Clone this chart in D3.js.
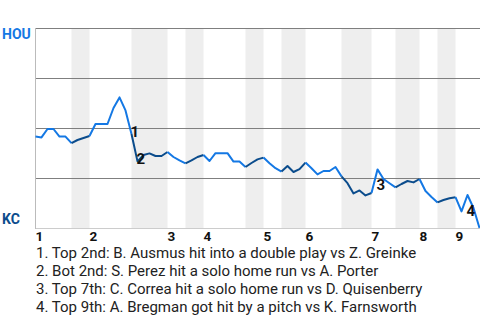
<!DOCTYPE html>
<html>
<head>
<meta charset="utf-8">
<script src="https://cdn.jsdelivr.net/npm/d3@7"></script>
<style>
  body { margin: 0; background: #fff; }
  svg { display: block; font-family: Roboto, "Noto Sans", sans-serif; }
</style>
</head>
<body>
<svg id="chart" width="480" height="320"></svg>
<script>
// teams: away on top, home at the bottom
const teams = ["HOU", "KC"];

// plate appearances in each half inning (top 1, bot 1, top 2, ...)
const halfInningPAs = [6, 3, 7, 6, 3, 3, 7, 3, 3, 4, 6, 5, 4, 4, 3, 3, 4];

const inningLabels = ["1", "2", "3", "4", "5", "6", "7", "8", "9"];

// HOU win probability (%) after each plate appearance
const winProb = [
  45.7, 45.3, 49.5, 49.5, 45.7, 45.7, 42.4, 44.0, 45.0, 46.0,
  52.0, 52.0, 52.0, 60.0, 65.3, 58.8, 47.0, 33.3, 36.5, 37.3,
  36.0, 36.0, 38.0, 35.5, 33.8, 32.3, 33.8, 35.5, 36.5, 33.5,
  37.4, 37.4, 37.4, 33.2, 33.2, 30.5, 32.5, 34.3, 35.2, 32.4,
  29.9, 28.2, 31.0, 28.0, 29.4, 32.7, 29.9, 26.8, 28.5, 28.5,
  30.5, 25.8, 22.4, 17.3, 18.8, 16.3, 17.5, 29.3, 24.5, 22.4,
  20.3, 22.0, 23.5, 22.8, 24.5, 18.5, 15.5, 12.8, 14.0, 14.9,
  15.4, 8.3, 16.5, 10.0, 0
];

// key plays: index into winProb and description
const keyPlayIndex = [16, 17, 57, 72];
const keyPlayText = [
  "Top 2nd: B. Ausmus hit into a double play vs Z. Greinke",
  "Bot 2nd: S. Perez hit a solo home run vs A. Porter",
  "Top 7th: C. Correa hit a solo home run vs D. Quisenberry",
  "Top 9th: A. Bregman got hit by a pitch vs K. Farnsworth"
];

const awayColor = "#1478e4";
const homeColor = "#0b4c8c";

const svg = d3.select("#chart");

const x = d3.scaleLinear()
  .domain([0, winProb.length - 1])
  .range([35.5, 479.5]);

const y = d3.scaleLinear()
  .domain([0, 100])
  .range([228, 28]);

// start/end index of each half inning
let acc = 0;
const halves = halfInningPAs.map((n, k) => {
  const h = { k: k, start: acc, end: acc + n, top: k % 2 === 0 };
  acc += n;
  return h;
});

// shaded bottom halves
svg.append("g")
  .selectAll("rect")
  .data(halves.filter(h => !h.top))
  .enter()
  .append("rect")
  .attr("x", d => x(d.start))
  .attr("y", y(100))
  .attr("width", d => x(d.end) - x(d.start))
  .attr("height", y(0) - y(100))
  .attr("fill", "#eeeeee");

// horizontal grid
svg.append("g")
  .selectAll("line")
  .data([100, 75, 50, 25])
  .enter()
  .append("line")
  .attr("x1", x(0))
  .attr("x2", 480)
  .attr("y1", d => Math.round(y(d)) + 0.5)
  .attr("y2", d => Math.round(y(d)) + 0.5)
  .attr("stroke", "#7f7f7f")
  .attr("stroke-width", 1);

// bottom and left axis lines
svg.append("line")
  .attr("x1", x(0)).attr("x2", 480)
  .attr("y1", y(0) + 0.5).attr("y2", y(0) + 0.5)
  .attr("stroke", "#cccccc");
svg.append("line")
  .attr("x1", x(0)).attr("x2", x(0))
  .attr("y1", y(100)).attr("y2", y(0) + 1)
  .attr("stroke", "#bbbbbb");

// win probability line, coloured by batting team
const line = d3.line()
  .x(d => x(d.i))
  .y(d => y(d.p));

svg.append("g")
  .selectAll("path")
  .data(halves)
  .enter()
  .append("path")
  .attr("d", h => line(d3.range(h.start, h.end + 1).map(i => ({ i: i, p: winProb[i] }))))
  .attr("fill", "none")
  .attr("stroke", h => h.top ? awayColor : homeColor)
  .attr("stroke-width", 2)
  .attr("stroke-linejoin", "round");

// team labels
svg.append("text")
  .attr("x", 2)
  .attr("y", y(100) + 11)
  .attr("fill", awayColor)
  .attr("font-weight", "bold")
  .attr("font-size", 14)
  .text(teams[0]);
svg.append("text")
  .attr("x", 2)
  .attr("y", y(0) - 4)
  .attr("fill", homeColor)
  .attr("font-weight", "bold")
  .attr("font-size", 14)
  .text(teams[1]);

// inning numbers
svg.append("g")
  .selectAll("text")
  .data(halves.filter(h => h.top))
  .enter()
  .append("text")
  .attr("x", d => x(d.start))
  .attr("y", 241)
  .attr("font-weight", "bold")
  .attr("font-size", 13.5)
  .attr("fill", "#111")
  .text((d, i) => inningLabels[i]);

// key play markers: below the line when HOU gained, beside it otherwise
svg.append("g")
  .selectAll("text")
  .data(keyPlayIndex)
  .enter()
  .append("text")
  .attr("x", d => x(d) - 1)
  .attr("y", d => y(winProb[d]) + (winProb[d] > winProb[d - 1] ? 21 : 3))
  .attr("font-weight", "bold")
  .attr("font-size", 15)
  .attr("fill", "#111")
  .text((d, i) => i + 1);

// key play descriptions
svg.append("g")
  .selectAll("text")
  .data(keyPlayText)
  .enter()
  .append("text")
  .attr("x", 36)
  .attr("y", (d, i) => 258 + i * 18)
  .attr("font-size", 15)
  .attr("fill", "#222")
  .text((d, i) => `${i + 1}. ${d}`);
</script>
</body>
</html>
